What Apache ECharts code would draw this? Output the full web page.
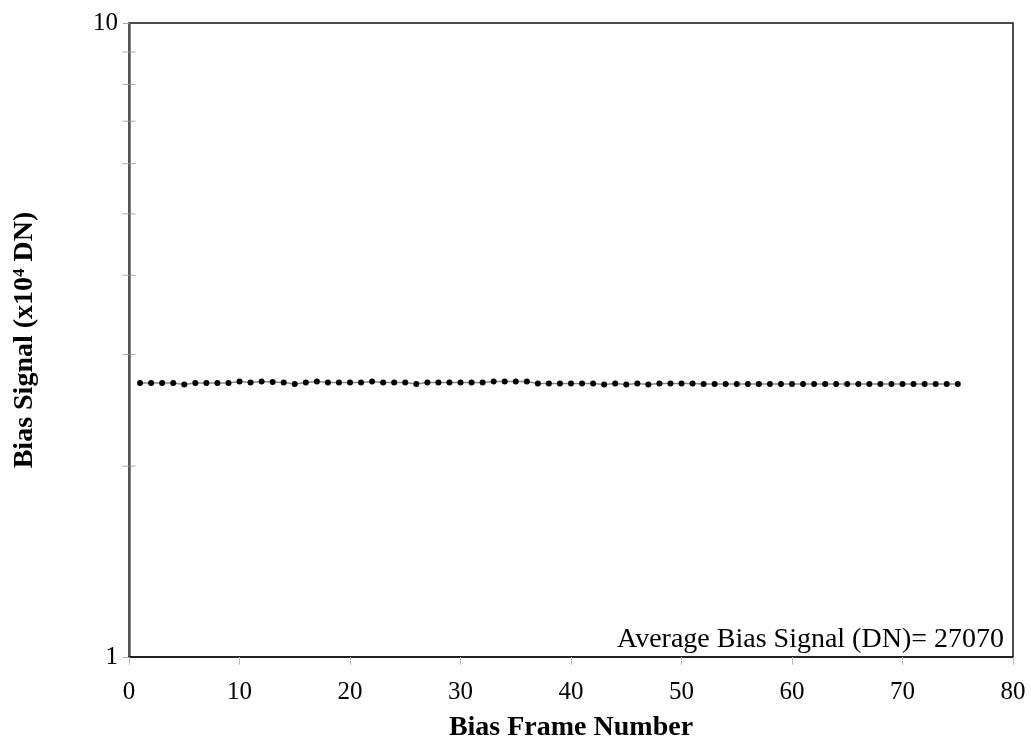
<!DOCTYPE html>
<html>
<head>
<meta charset="utf-8">
<script src="https://cdn.jsdelivr.net/npm/echarts@6/dist/echarts.min.js"></script>
<style>html,body{margin:0;padding:0;background:#fff}#c{width:1031px;height:747px}</style>
</head>
<body>
<div id="c"></div>
<script>
// Bias frame numbers 1..75
const frames = [1,2,3,4,5,6,7,8,9,10,11,12,13,14,15,16,17,18,19,20,21,22,23,24,25,26,27,28,29,30,31,32,33,34,35,36,37,38,39,40,41,42,43,44,45,46,47,48,49,50,51,52,53,54,55,56,57,58,59,60,61,62,63,64,65,66,67,68,69,70,71,72,73,74,75];
// Bias signal (x10^4 DN)
const signal = [
  2.705,2.705,2.705,2.705,2.69,2.705,2.705,2.705,2.705,2.72,
  2.71,2.72,2.715,2.71,2.695,2.71,2.72,2.71,2.71,2.71,
  2.71,2.72,2.71,2.71,2.71,2.695,2.71,2.71,2.71,2.71,
  2.71,2.71,2.72,2.72,2.72,2.72,2.70,2.70,2.70,2.70,
  2.70,2.70,2.69,2.70,2.69,2.70,2.69,2.70,2.70,2.70,
  2.70,2.695,2.695,2.695,2.695,2.695,2.695,2.695,2.695,2.695,
  2.695,2.695,2.695,2.695,2.695,2.695,2.695,2.695,2.695,2.695,
  2.695,2.695,2.695,2.695,2.695
];
const yMinorTicks = [2,3,4,5,6,7,8,9];
const xTicks = [0,10,20,30,40,50,60,70,80];
const annotation = 'Average Bias Signal (DN)= 27070';

const font = '"Liberation Serif", "Times New Roman", serif';
const chart = echarts.init(document.getElementById('c'), null, {renderer: 'canvas'});
chart.setOption({
  animation: false,
  backgroundColor: '#fff',
  grid: {left: 129, right: 18, top: 23, bottom: 83, show: true, borderColor: '#111', borderWidth: 1.5},
  xAxis: {
    type: 'value', min: xTicks[0], max: xTicks[xTicks.length-1], interval: 10,
    name: 'Bias Frame Number', nameLocation: 'middle', nameGap: 57,
    nameTextStyle: {fontFamily: font, fontSize: 28, fontWeight: 'bold', color: '#000'},
    axisLine: {show: true, lineStyle: {color: '#222', width: 2}},
    axisTick: {show: true, length: 8, lineStyle: {color: '#bbb', width: 1}},
    axisLabel: {fontFamily: font, fontSize: 25, color: '#000', margin: 23},
    splitLine: {show: false}
  },
  yAxis: {
    type: 'log', logBase: 10, min: 1, max: 10,
    name: '{b|Bias Signal (x10}{s|4}{b| DN)}', nameLocation: 'middle', nameGap: 90,
    nameTextStyle: {rich: {
      b: {fontFamily: font, fontSize: 28, fontWeight: 'bold', color: '#000'},
      s: {fontFamily: font, fontSize: 17, fontWeight: 'bold', color: '#000', verticalAlign: 'top', padding: [0,0,10,0]}
    }},
    axisLine: {show: true, lineStyle: {color: '#555', width: 2.5}},
    axisTick: {show: true, length: 6, lineStyle: {color: '#aaa', width: 1}},
    axisLabel: {fontFamily: font, fontSize: 25, color: '#000', margin: 11},
    splitLine: {show: false}
  },
  series: [
    {
      type: 'line',
      data: frames.map((f, i) => [f, signal[i]]),
      symbol: 'circle', symbolSize: 6,
      itemStyle: {color: '#000'},
      lineStyle: {color: '#888', width: 1.5},
      z: 3
    },
    {
      type: 'scatter',
      data: yMinorTicks.map(v => [xTicks[0], v]),
      symbol: 'rect', symbolSize: [13, 1],
      itemStyle: {color: '#999'},
      clip: false, silent: true, z: 1
    }
  ],
  graphic: [{
    type: 'text', right: 27, top: 626,
    style: {text: annotation, font: '28px ' + font, fill: '#000'}
  }]
});
</script>
</body>
</html>
